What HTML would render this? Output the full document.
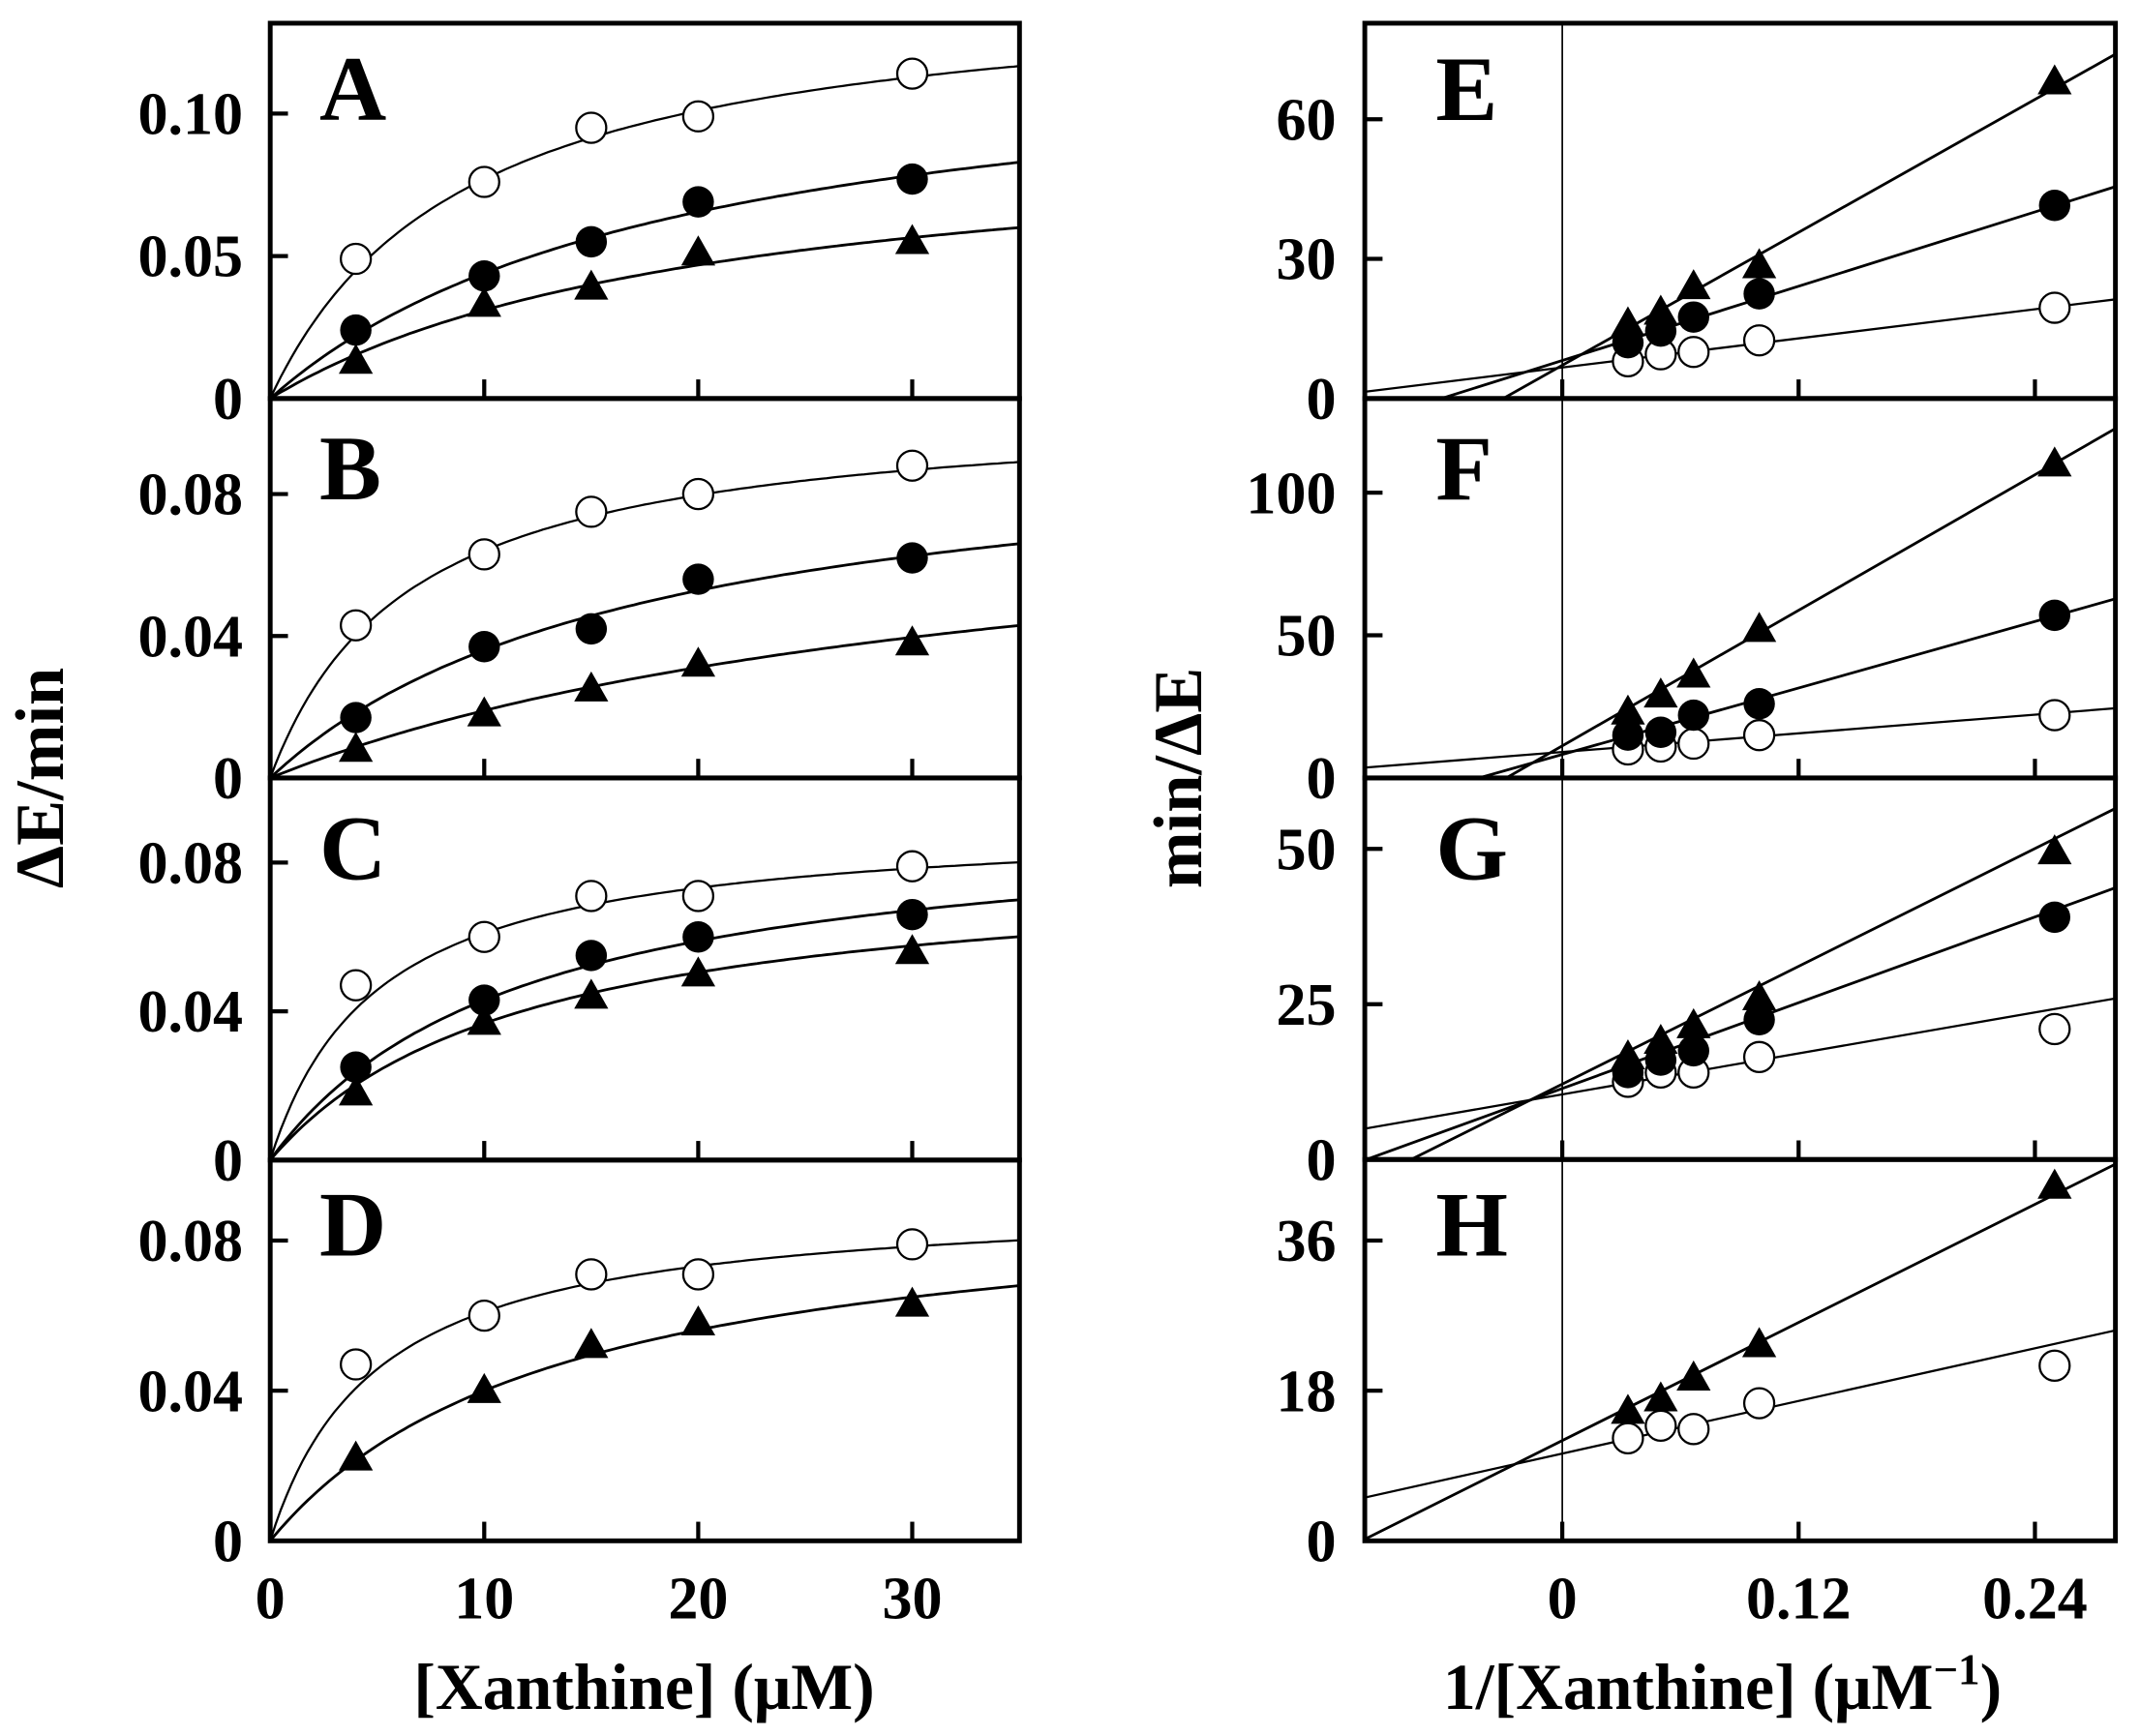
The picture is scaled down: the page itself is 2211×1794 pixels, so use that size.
<!DOCTYPE html>
<html><head><meta charset="utf-8"><style>
html,body{margin:0;padding:0;background:#fff;}
svg{display:block;}
text{font-family:"Liberation Serif",serif;font-weight:bold;fill:#000;}
</style></head><body>
<svg id="s" xmlns="http://www.w3.org/2000/svg" width="2211" height="1794" viewBox="0 0 1568 1272" preserveAspectRatio="none">
<defs id="defs">
<clipPath id="cl"><rect x="198" y="17" width="549" height="1112"/></clipPath>
</defs>
<g id="g"></g>
<text x="472" y="1252" font-size="48" text-anchor="middle">[Xanthine] (μM)</text>
<text x="1262" y="1252" font-size="48" text-anchor="middle">1/[Xanthine] (μM<tspan dy="-18" font-size="32">−1</tspan><tspan dy="18">)</tspan></text>
<text transform="translate(46,570) rotate(-90)" font-size="50" text-anchor="middle">ΔE/min</text>
<text transform="translate(880,570) rotate(-90)" font-size="50" text-anchor="middle">min/ΔE</text>
</svg>
<script>
const NS="http://www.w3.org/2000/svg";
const g=document.getElementById('g');
const defs=document.getElementById('defs');
function el(t,a,p){const e=document.createElementNS(NS,t);for(const k in a)e.setAttribute(k,a[k]);(p||g).appendChild(e);return e;}
function txt(x,y,s,sz,anc){const e=el('text',{x:x,y:y,'font-size':sz,'text-anchor':anc||'start'});e.textContent=s;return e;}
function marker(type,cx,cy,par){
 if(type==='o')el('circle',{cx:cx,cy:cy,r:11,fill:'#fff',stroke:'#000','stroke-width':1.6},par);
 else if(type==='f')el('circle',{cx:cx,cy:cy,r:11.5,fill:'#000'},par);
 else el('polygon',{points:`${cx},${cy-13} ${cx-12.5},${cy+9} ${cx+12.5},${cy+9}`,fill:'#000'},par);
}
const FS=44;
const xs=[4,10,15,20,30];
const L=[
 {y0:292,k:104.4/0.05,top:17,lab:'A',ly:88,ticks:[[0,'0'],[0.05,'0.05'],[0.10,'0.10']],
  s:[['o',[.049,.076,.095,.099,.114],0.147,9.1],['f',[.024,.043,.055,.069,.077],0.1284,19.2],['t',[.013,.033,.039,.051,.055],0.0958,20.9]]},
 {y0:570,k:104/0.04,top:292,lab:'B',ly:366,ticks:[[0,'0'],[0.04,'0.04'],[0.08,'0.08']],
  s:[['o',[.043,.063,.075,.080,.088],0.1055,6.47],['f',[.017,.037,.042,.056,.062],0.099,17.5],['t',[.008,.018,.025,.032,.038],0.0868,35.7]]},
 {y0:850,k:109/0.04,top:570,lab:'C',ly:644,ticks:[[0,'0'],[0.04,'0.04'],[0.08,'0.08']],
  s:[['o',[.047,.060,.071,.071,.079],0.0915,5.0],['f',[.025,.043,.055,.060,.066],0.0935,11.75],['t',[.018,.037,.044,.050,.056],0.0805,11.9]]},
 {y0:1129,k:110/0.04,top:850,lab:'D',ly:920,ticks:[[0,'0'],[0.04,'0.04'],[0.08,'0.08']],
  s:[['o',[.047,.060,.071,.071,.079],0.0915,5.0],['t',[.022,.040,.052,.058,.063],0.0944,13.6]]}
];
const X=x=>198+x*15.68;
const cl=el('g',{'clip-path':'url(#cl)'});
L.forEach(p=>{
 const Y=v=>p.y0-v*p.k;
 p.s.forEach(([t,d,V,K])=>{
  let pts=[];for(let x=0;x<=36;x+=0.25)pts.push(X(x).toFixed(1)+','+Y(V*x/(K+x)).toFixed(1));
  el('polyline',{points:pts.join(' '),fill:'none',stroke:'#000','stroke-width':t==='o'?1.6:2},cl);
 });
 p.s.forEach(([t,d])=>d.forEach((v,i)=>marker(t,X(xs[i]),Y(v))));
 p.ticks.forEach(([v,s])=>{el('line',{x1:198,x2:211,y1:Y(v),y2:Y(v),stroke:'#000','stroke-width':3});txt(178,Y(v)+15,s,FS,'end');});
 [10,20,30].forEach(x=>el('line',{x1:X(x),x2:X(x),y1:p.y0,y2:p.y0-14,stroke:'#000','stroke-width':3}));
 el('rect',{x:198,y:p.top,width:549,height:p.y0-p.top,fill:'none',stroke:'#000','stroke-width':3.5});
 txt(234,p.ly,p.lab,68);
});
[[0,'0'],[10,'10'],[20,'20'],[30,'30']].forEach(([x,s])=>txt(X(x),1186,s,FS,'middle'));

const RX=x=>1144.7+x*1443;
const rxs=[1/30,1/20,1/15,1/10,1/4];
const R=[
 {y0:292,k:102.3/30,top:17,lab:'E',ly:88,ticks:[[0,'0'],[30,'30'],[60,'60']],
  l:[['o',x=>1.44+52.1*(x+0.1004)],['f',x=>133*(x+0.0614)],['t',x=>238*(x+0.030)]],
  s:[['o',[8,9.5,10,12.5,19.5]],['f',[12,14.5,17.5,22.5,41.5]],['t',[16,18.5,24,28.5,68]]]},
 {y0:570,k:104.5/50,top:292,lab:'F',ly:366,ticks:[[0,'0'],[50,'50'],[100,'100']],
  l:[['o',x=>3.6+54.6*(x+0.1004)],['f',x=>194.3*(x+0.0423)],['t',x=>396*(x+0.0284)]],
  s:[['o',[10,11,12,15,22]],['f',[15,16,22,26,57]],['t',[23,29,36,52,110]]]},
 {y0:849.6,k:113.8/25,top:570,lab:'G',ly:644,ticks:[[0,'0'],[25,'25'],[50,'50']],
  l:[['o',x=>9.6+55*(x+0.016)],['f',x=>9.6+115*(x+0.016)],['t',x=>158*(x+0.0768)]],
  s:[['o',[12.5,14,14,16.5,21]],['f',[14,16,17.5,22.5,39]],['t',[16.5,19,21.5,26,49.5]]]},
 {y0:1129,k:110/18,top:849.6,lab:'H',ly:920,ticks:[[0,'0'],[18,'18'],[36,'36']],
  l:[['o',x=>9.2+52.6*(x+0.024)],['t',x=>118*(x+0.1019)]],
  s:[['o',[12.3,13.8,13.4,16.5,21]],['t',[15.5,17,19.5,23.5,42.5]]]}
];
el('line',{x1:RX(0),x2:RX(0),y1:17,y2:1129,stroke:'#000','stroke-width':1.2});
R.forEach((p,i)=>{
 const Y=v=>p.y0-v*p.k;
 const cp=el('clipPath',{id:'cr'+i},defs);
 el('rect',{x:1000,y:p.top,width:550,height:p.y0-p.top},cp);
 const cg=el('g',{'clip-path':'url(#cr'+i+')'});
 p.l.forEach(([t,f])=>el('line',{x1:RX(-0.11),y1:Y(f(-0.11)),x2:RX(0.29),y2:Y(f(0.29)),stroke:'#000','stroke-width':t==='o'?1.6:2},cg));
 p.s.forEach(([t,d])=>d.forEach((v,j)=>marker(t,RX(rxs[j]),Y(v))));
 p.ticks.forEach(([v,s])=>{el('line',{x1:1000,x2:1013,y1:Y(v),y2:Y(v),stroke:'#000','stroke-width':3});txt(979,Y(v)+15,s,FS,'end');});
 [0,0.12,0.24].forEach(x=>el('line',{x1:RX(x),x2:RX(x),y1:p.y0,y2:p.y0-14,stroke:'#000','stroke-width':3}));
 el('rect',{x:1000,y:p.top,width:550,height:p.y0-p.top,fill:'none',stroke:'#000','stroke-width':3.5});
 txt(1052,p.ly,p.lab,68);
});
[[0,'0'],[0.12,'0.12'],[0.24,'0.24']].forEach(([x,s])=>txt(RX(x),1186,s,FS,'middle'));
</script>
</body></html>
